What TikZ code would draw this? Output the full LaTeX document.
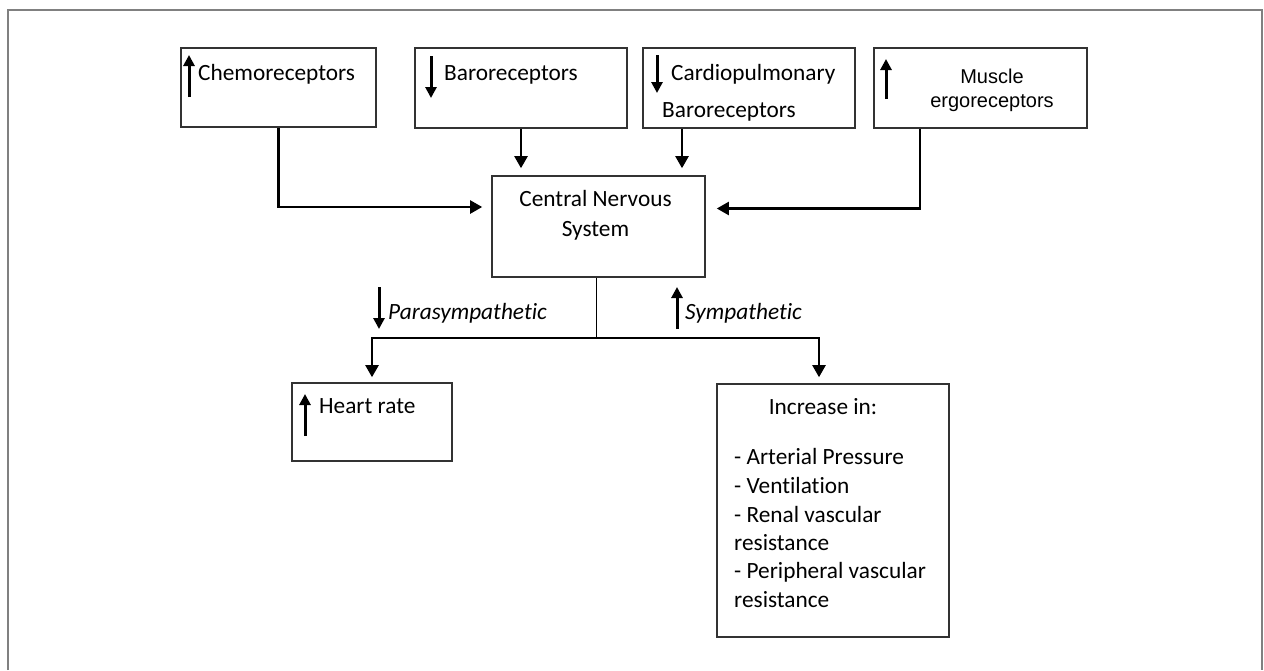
\documentclass[tikz,border=0pt]{standalone}
\usepackage{fontspec}
\setmainfont[Ligatures=NoCommon]{Carlito}
\newfontfamily\arialf{Liberation Sans}
\usetikzlibrary{arrows.meta,calc}
\definecolor{boxgray}{RGB}{50,50,50}
\definecolor{framegray}{RGB}{128,128,128}
\newcommand\mainsz{\fontsize{23.3pt}{30pt}\selectfont}
\newcommand\musclesz{\arialf\fontsize{20pt}{24pt}\selectfont}
\begin{document}
\begin{tikzpicture}[x=1pt,y=-1pt,
  box/.style={draw=boxgray,line width=1.6pt,rectangle,inner sep=0pt},
  txt/.style={inner sep=0pt,font=\mainsz},
  mtxt/.style={inner sep=0pt,font=\musclesz},
  itxt/.style={inner sep=0pt,font=\mainsz\itshape},
  conn/.style={draw=black,line width=2.2pt,-{Triangle[width=13pt,length=12pt]}},
  plain/.style={draw=black,line width=1.8pt},
  ind/.style={draw=black,line width=3pt,-{Triangle[width=11pt,length=11pt]}},
  frame/.style={draw=framegray,line width=2pt}]
\useasboundingbox (0,0) rectangle (1264,670);
\draw[frame] (8,670) -- (8,10) -- (1262,10) -- (1262,670);

% boxes
\node[box,minimum width=195pt,minimum height=79pt] (chemo) at (278.5,87.5) {};
\node[box,minimum width=212pt,minimum height=80pt] (baro) at (521,88) {};
\node[box,minimum width=212pt,minimum height=80pt] (cardio) at (749,88) {};
\node[box,minimum width=213pt,minimum height=80pt] (muscle) at (980.5,88) {};
\node[box,minimum width=213pt,minimum height=101pt] (cns) at (598.5,226.5) {};
\node[box,minimum width=160pt,minimum height=78pt] (heart) at (372,422) {};
\node[box,minimum width=232pt,minimum height=253pt] (inc) at (833,510.5) {};

% texts
\node[txt,anchor=base west] (chemoT) at (198,80) {Chemoreceptors};
\node[txt,anchor=base west] (baroT) at (444,80) {Baroreceptors};
\node[txt,anchor=base west] (cardioT1) at (671,80) {Cardiopulmonary};
\node[txt,anchor=base west] (cardioT2) at (662,117) {Baroreceptors};
\node[mtxt,anchor=base] (muscleT1) at (992,83) {Muscle};
\node[mtxt,anchor=base] (muscleT2) at (992,107) {ergoreceptors};
\node[txt,anchor=base] (cnsT1) at (595.5,206) {Central Nervous};
\node[txt,anchor=base] (cnsT2) at (595.5,236) {System};
\node[itxt,anchor=base west] (paraT) at (388,319) {Parasympathetic};
\node[itxt,anchor=base west] (symT) at (685,319) {Sympathetic};
\node[txt,anchor=base west] (heartT) at (319,413) {Heart rate};
\node[txt,anchor=base] (incT) at (823,414) {Increase in:};
\node[txt,anchor=base west] (l1) at (734,464) {- Arterial Pressure};
\node[txt,anchor=base west] (l2) at (734,493) {- Ventilation};
\node[txt,anchor=base west] (l3) at (734,522) {- Renal vascular};
\node[txt,anchor=base west] (l4) at (734,550) {resistance};
\node[txt,anchor=base west] (l5) at (734,578) {- Peripheral vascular};
\node[txt,anchor=base west] (l6) at (734,607) {resistance};

% indicator arrows
\draw[ind] (189,97) -- (189,55);
\draw[ind] (431,56) -- (431,98);
\draw[ind] (657,55) -- (657,93);
\draw[ind] (886,99) -- (886,59);
\draw[ind] (379,287) -- (379,329);
\draw[ind] (677,329) -- (677,287);
\draw[ind] (305,436) -- (305,394);

% connectors
\coordinate (cardioOut) at ([xshift=-67pt]cardio.south);
\coordinate (muscleOut) at ([xshift=-60.5pt]muscle.south);
\coordinate (split) at ($(cns.south)+(-2,60)$);
\coordinate (incIn) at ([xshift=-14pt]inc.north);
\draw[conn,shorten >=9pt] (chemo.south) |- ([yshift=19.5pt]cns.west);
\draw[conn,shorten >=7pt] (baro.south) -- (baro.south |- cns.north);
\draw[conn,shorten >=7pt] (cardioOut) -- (cardioOut |- cns.north);
\draw[conn,shorten >=11pt] (muscleOut) |- ([yshift=18pt]cns.east);
\draw[plain] (cns.south -| split) -- (split);
\draw[conn,shorten >=5pt] (split) -| (heart.north);
\draw[conn,shorten >=6pt] (split) -| (incIn);
\end{tikzpicture}
\end{document}
